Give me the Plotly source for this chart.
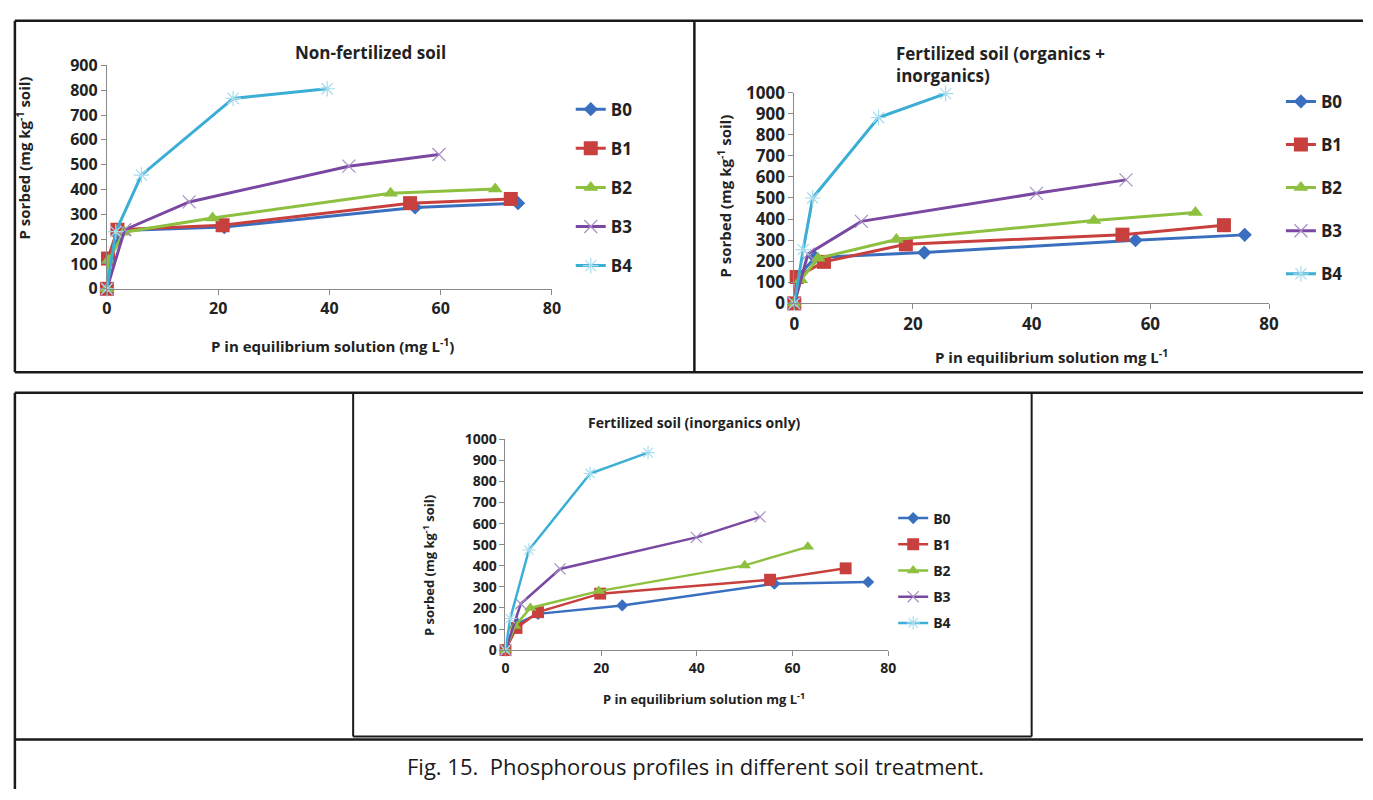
import plotly.graph_objects as go

W, H = 1373, 800

series_names = ["B0", "B1", "B2", "B3", "B4"]

# Chart 1: Non-fertilized soil
nf_x = {
    "B0": [0, 0.3, 2.5, 21.1, 55.4, 73.9],
    "B1": [0, 0.2, 1.9, 20.8, 54.5, 72.6],
    "B2": [0, 0.3, 3.1, 19.0, 51.0, 69.8],
    "B3": [0, 3.2, 14.8, 43.5, 59.7],
    "B4": [0, 1.6, 6.2, 22.7, 39.6],
}
nf_y = {
    "B0": [0, 120, 235, 249, 328, 345],
    "B1": [0, 122, 238, 256, 345, 362],
    "B2": [0, 115, 228, 285, 385, 402],
    "B3": [0, 238, 350, 494, 541],
    "B4": [0, 230, 458, 767, 806],
}

# Chart 2: Fertilized soil (organics + inorganics)
oi_x = {
    "B0": [0, 0.4, 3.5, 21.9, 57.5, 75.9],
    "B1": [0, 0.4, 5.0, 18.8, 55.3, 72.4],
    "B2": [0, 1.1, 4.0, 17.2, 50.5, 67.6],
    "B3": [0, 2.3, 11.3, 40.8, 55.9],
    "B4": [0, 1.5, 3.1, 14.2, 25.5],
}
oi_y = {
    "B0": [0, 120, 218, 241, 300, 325],
    "B1": [0, 125, 197, 280, 326, 371],
    "B2": [0, 112, 214, 303, 393, 431],
    "B3": [0, 234, 389, 522, 586],
    "B4": [0, 255, 500, 882, 995],
}

# Chart 3: Fertilized soil (inorganics only)
io_x = {
    "B0": [0, 2.5, 6.8, 24.4, 56.2, 75.8],
    "B1": [0, 2.3, 6.8, 19.8, 55.3, 71.1],
    "B2": [0, 2.0, 5.2, 19.5, 50.0, 63.2],
    "B3": [0, 3.2, 11.4, 39.9, 53.2],
    "B4": [0, 1.0, 4.9, 17.7, 29.8],
}
io_y = {
    "B0": [0, 125, 172, 212, 315, 323],
    "B1": [0, 105, 180, 268, 334, 388],
    "B2": [0, 115, 200, 280, 402, 490],
    "B3": [0, 220, 385, 535, 632],
    "B4": [0, 150, 475, 838, 937],
}

colors = {"B0": "#3a6fc0", "B1": "#c8403e", "B2": "#8dc03f", "B3": "#7a48a2", "B4": "#3aaed5"}
marker_line = {"B3": "#a68fc4", "B4": "#a6dcee"}
symbols = {"B0": "diamond", "B1": "square", "B2": "triangle-up", "B3": "x-thin", "B4": "asterisk"}

FONT = "Open Sans"


def px(x):
    return x / W


def py(y):
    return 1 - y / H


panels = [
    dict(xs=nf_x, ys=nf_y, ax="", leg="legend", xd=(103, 553), yd=(55, 285), ymax=900,
         msize=1.0, lw=3, tick=16),
    dict(xs=oi_x, ys=oi_y, ax="2", leg="legend2", xd=(798, 1278), yd=(83, 300), ymax=1000,
         msize=1.0, lw=3, tick=17),
    dict(xs=io_x, ys=io_y, ax="3", leg="legend3", xd=(506, 893), yd=(440, 657), ymax=1000,
         msize=0.85, lw=2.5, tick=14),
]

fig = go.Figure()

for p in panels:
    for name in series_names:
        sym = symbols[name]
        s = p["msize"]
        if sym in ("x-thin", "asterisk"):
            marker = dict(symbol=sym, size=13 * s, color=marker_line[name],
                          line=dict(width=1.2, color=marker_line[name]))
        else:
            size = {"diamond": 11, "square": 14, "triangle-up": 13}[sym] * s
            marker = dict(symbol=sym, size=size, color=colors[name], line=dict(width=0))
        fig.add_trace(go.Scatter(
            x=p["xs"][name], y=p["ys"][name], name=name, mode="lines+markers",
            line=dict(color=colors[name], width=p["lw"]), marker=marker,
            xaxis="x" + p["ax"], yaxis="y" + p["ax"], legend=p["leg"],
            legendgroup=p["leg"] + name, cliponaxis=False,
        ))

    axis_common = dict(showgrid=False, zeroline=False, showline=True, linecolor="#8a8a8a",
                       linewidth=1, ticks="outside", ticklen=5, tickcolor="#8a8a8a",
                       tickfont=dict(family=FONT, size=p["tick"], color="#222", weight="bold"))
    fig.update_layout(**{
        "xaxis" + p["ax"]: dict(domain=[px(p["xd"][0]), px(p["xd"][1])], range=[0, 80], dtick=20,
                                anchor="y" + p["ax"], **axis_common),
        "yaxis" + p["ax"]: dict(domain=[py(p["yd"][1]), py(p["yd"][0])], range=[0, p["ymax"]],
                                dtick=100, anchor="x" + p["ax"], **axis_common),
    })

legend_common = dict(bgcolor="rgba(0,0,0,0)", traceorder="grouped", xanchor="left", yanchor="top",
                     itemwidth=30)
fig.update_layout(
    legend=dict(x=px(572), y=py(82), tracegroupgap=14,
                font=dict(family=FONT, size=17, color="#222", weight="bold"), **legend_common),
    legend2=dict(x=px(1290), y=py(74), tracegroupgap=18,
                 font=dict(family=FONT, size=17, color="#222", weight="bold"), **legend_common),
    legend3=dict(x=px(898), y=py(505), tracegroupgap=5,
                 font=dict(family=FONT, size=14, color="#222", weight="bold"), **legend_common),
)

ann = []


def text(x, y, t, size, bold=True, angle=0, xanchor="center", align="center", color="#222"):
    ann.append(dict(x=px(x), y=py(y), xref="paper", yref="paper", text=t, showarrow=False,
                    textangle=angle, xanchor=xanchor, yanchor="middle", align=align,
                    font=dict(family=FONT, size=size, color=color,
                              weight="bold" if bold else "normal")))


# Chart 1 texts
text(370, 42, "Non-fertilized soil", 17)
text(331, 343, "P in equilibrium solution (mg L<sup>-1</sup>)", 15)
text(19, 150, "P sorbed (mg kg<sup>-1</sup> soil)", 15, angle=-90)
# Chart 2 texts
text(899, 54, "Fertilized soil (organics +<br>inorganics)", 17, xanchor="left", align="left")
text(1058, 355, "P in equilibrium solution mg L<sup>-1</sup>", 15)
text(727, 190, "P sorbed (mg kg<sup>-1</sup> soil)", 15, angle=-90)
# Chart 3 texts
text(697, 423, "Fertilized soil (inorganics only)", 14)
text(707, 707, "P in equilibrium solution mg L<sup>-1</sup>", 13)
text(428, 570, "P sorbed (mg kg<sup>-1</sup> soil)", 13, angle=-90)
# Caption
text(698, 776, "Fig. 15.\u00a0 Phosphorous profiles in different soil treatment.", 22, bold=False,
     color="#1a1a1a")

shapes = []


def line(x0, y0, x1, y1, w=2.5):
    shapes.append(dict(type="line", xref="paper", yref="paper", x0=px(x0), y0=py(y0),
                       x1=px(x1), y1=py(y1), line=dict(color="#1a1a1a", width=w)))


# Top panel borders
line(10, 9, 1373, 9)
line(10, 371, 1373, 371)
line(10, 9, 10, 371)
line(697, 9, 697, 371)
# Lower panel borders
line(10, 392, 1373, 392)
line(10, 392, 10, 800)
line(10, 749, 1373, 749)
# Inner chart box
line(352, 392, 352, 746, 2)
line(1038, 392, 1038, 746, 2)
line(352, 746, 1038, 746, 2)

fig.update_layout(
    width=W, height=H, margin=dict(l=0, r=0, t=0, b=0),
    paper_bgcolor="white", plot_bgcolor="white",
    annotations=ann, shapes=shapes, showlegend=True,
)

fig.write_html(
    "out.html",
    config={"displayModeBar": False},
    post_script="document.body.style.margin='0';document.body.style.overflow='hidden';",
)
